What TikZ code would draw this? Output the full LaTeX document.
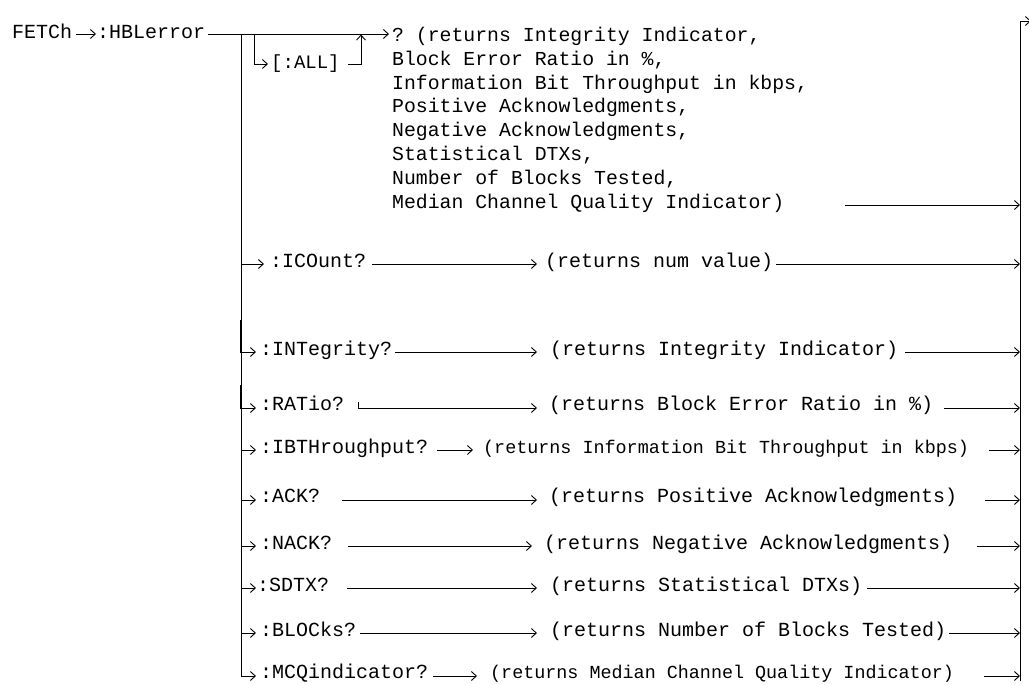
\documentclass[tikz,border=0pt]{standalone}
\usepackage{fontspec}
\setmonofont{Liberation Mono}
\usetikzlibrary{arrows.meta}
\newcommand\fA{\ttfamily\fontsize{20}{24}\selectfont}
\newcommand\fB{\ttfamily\fontsize{19.8}{24}\selectfont}
\newcommand\fC{\ttfamily\fontsize{18.4}{22}\selectfont}
\newcommand\fE{\ttfamily\fontsize{19}{24}\selectfont}
\tikzset{
  la/.style={font=\fA, inner sep=0pt, anchor=base west},
  lb/.style={font=\fB, inner sep=0pt, anchor=base west},
  lc/.style={font=\fC, inner sep=0pt, anchor=base west},
  le/.style={font=\fE, inner sep=0pt, anchor=base west},
  plain/.style={line width=0.9pt},
  conn/.style={line width=0.9pt, -{Straight Barb[length=5pt,width=9pt]}},
}
\begin{document}
\begin{tikzpicture}[x=1pt,y=-1pt]
\useasboundingbox (0,0) rectangle (1029,685);
% header
\node[la] (fetch) at (12,38.5) {FETCh};
\node[la] (hbl) at (97,38.5) {:HBLerror};
\coordinate (y0) at (0,34);
\draw[conn] ([xshift=4pt]fetch.east |- y0) -- ([xshift=-1pt]hbl.west |- y0);
% block text
\foreach \t [count=\i] in {{? (returns Integrity Indicator,},
  {Block Error Ratio in \%,},
  {Information Bit Throughput in kbps,},
  {Positive Acknowledgments,},
  {Negative Acknowledgments,},
  {Statistical DTXs,},
  {Number of Blocks Tested,},
  {Median Channel Quality Indicator)}}
  \node[lb] (b\i) at (392,{41.5+23.8*(\i-1)}) {\t};
\draw[conn] ([xshift=3pt]hbl.east |- y0) -- ([xshift=-3pt]b1.west |- y0);
% [:ALL] branch
\coordinate (ab) at (254,34);
\coordinate (ay) at (0,64);
\coordinate (aup) at (361,34.5);
\node[le] (all) at (271,69) {[:ALL]};
\draw[conn] (ab) |- ([xshift=-3pt]all.west |- ay);
\draw[conn] ([xshift=8pt]all.east |- ay) -| (aup);
% right collector
\coordinate (rt) at (1020,21);
\coordinate (rb) at (1020,681);
\coordinate (rtip) at (1031,21);
\draw[conn] (rb) -- (rt) -- (rtip);
\coordinate (bs) at (845,205);
\draw[conn] (bs) -- (bs -| rt);
% main vertical
\coordinate (mtop) at (241,34);
% rows
\node[la] (l1) at (270,267.5) {:ICOunt?};
\node[la] (l2) at (260,355.5) {:INTegrity?};
\node[la] (l3) at (260,410.5) {:RATio?};
\node[la] (l4) at (260,453.5) {:IBTHroughput?};
\node[la] (l5) at (260,502.5) {:ACK?};
\node[la] (l6) at (260,549.5) {:NACK?};
\node[la] (l7) at (257,591.5) {:SDTX?};
\node[la] (l8) at (260,636.5) {:BLOCks?};
\node[la] (l9) at (260,678.5) {:MCQindicator?};
\node[la] (r1) at (545,267.5) {(returns num value)};
\node[la] (r2) at (550,355.5) {(returns Integrity Indicator)};
\node[la] (r3) at (549,410.5) {(returns Block Error Ratio in \%)};
\node[lc] (r4) at (483,453.5) {(returns Information Bit Throughput in kbps)};
\node[la] (r5) at (549,502.5) {(returns Positive Acknowledgments)};
\node[la] (r6) at (544,549.5) {(returns Negative Acknowledgments)};
\node[la] (r7) at (550,591.5) {(returns Statistical DTXs)};
\node[la] (r8) at (550,636.5) {(returns Number of Blocks Tested)};
\node[lc] (r9) at (490,678.5) {(returns Median Channel Quality Indicator)};
\coordinate (s1) at (372,264);
\coordinate (s2) at (395,352);
\coordinate (s3) at (358,408);
\coordinate (s3t) at (358,402);
\coordinate (s4) at (437,450);
\coordinate (s5) at (342,500);
\coordinate (s6) at (348,546);
\coordinate (s7) at (347,588);
\coordinate (s8) at (360,633);
\coordinate (s9) at (433,676);
\coordinate (k2) at (240,320);
\coordinate (k3) at (240,385);
\draw[plain] (mtop) -- (mtop |- s9);
\draw[conn] (mtop |- s9) -- ([xshift=-4pt]l9.west |- s9);
\draw[conn] (mtop |- s1) -- ([xshift=-6pt]l1.west |- s1);
\draw[conn] (k2) |- ([xshift=-4pt]l2.west |- s2);
\draw[conn] (k3) |- ([xshift=-4pt]l3.west |- s3);
\foreach \i in {4,5,6,8}
  \draw[conn] (mtop |- s\i) -- ([xshift=-4pt]l\i.west |- s\i);
\draw[conn] (mtop |- s7) -- ([xshift=-1pt]l7.west |- s7);
% middle connectors
\draw[conn] (s1) -- ([xshift=-8pt]r1.west |- s1);
\draw[conn] (s2) -- ([xshift=-13pt]r2.west |- s2);
\draw[conn] (s3t) -- (s3) -- ([xshift=-12pt]r3.west |- s3);
\draw[conn] (s4) -- ([xshift=-10pt]r4.west |- s4);
\draw[conn] (s5) -- ([xshift=-12pt]r5.west |- s5);
\draw[conn] (s6) -- ([xshift=-12pt]r6.west |- s6);
\draw[conn] (s7) -- ([xshift=-13pt]r7.west |- s7);
\draw[conn] (s8) -- ([xshift=-13pt]r8.west |- s8);
\draw[conn] (s9) -- ([xshift=-13pt]r9.west |- s9);
% right connectors
\draw[conn] ([xshift=3pt]r1.east |- s1) -- (s1 -| rt);
\draw[conn] ([xshift=7pt]r2.east |- s2) -- (s2 -| rt);
\draw[conn] ([xshift=11pt]r3.east |- s3) -- (s3 -| rt);
\draw[conn] ([xshift=20pt]r4.east |- s4) -- (s4 -| rt);
\draw[conn] ([xshift=28pt]r5.east |- s5) -- (s5 -| rt);
\draw[conn] ([xshift=25pt]r6.east |- s6) -- (s6 -| rt);
\draw[conn] ([xshift=5pt]r7.east |- s7) -- (s7 -| rt);
\draw[conn] ([xshift=3pt]r8.east |- s8) -- (s8 -| rt);
\draw[conn] ([xshift=30pt]r9.east |- s9) -- (s9 -| rt);
\end{tikzpicture}
\end{document}
